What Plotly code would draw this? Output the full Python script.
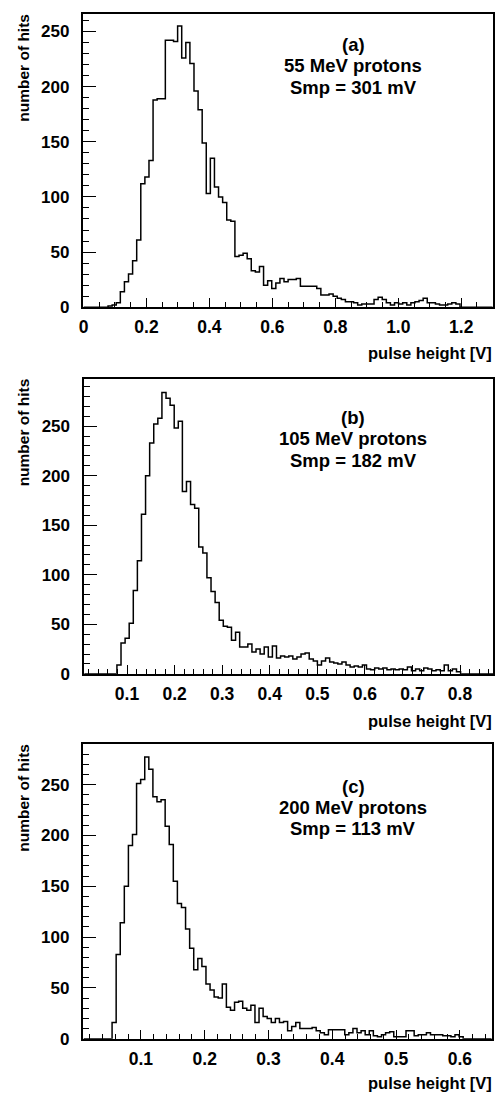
import numpy as np
import plotly.graph_objects as go

# ---------------- data ----------------
# Panel (a): 55 MeV protons, 100 bins from 0 to 1.3 V
a_lo, a_hi = 0.0, 1.3
a_counts = [0, 0, 0, 0, 0, 0,
            1, 2, 4, 14, 23, 30, 42, 61,
            112, 118, 133, 188, 189, 189, 242, 242,
            241, 255, 226, 240, 221, 196, 179, 149,
            103, 135, 109, 100, 95, 79, 78, 46,
            47, 49, 44, 33, 32, 37, 20, 24,
            17, 22, 26, 23, 25, 25, 26, 19,
            19, 19, 19, 17, 11, 11, 12, 10,
            8, 7, 5, 5, 4, 2, 3, 3,
            3, 7, 9, 7, 4, 2, 4, 3,
            4, 2, 4, 5, 6, 8, 4, 4,
            3, 2, 2, 3, 4, 3,
            0, 0, 0, 0, 0, 0, 0, 0]

# Panel (b): 105 MeV protons, 100 bins from 0.01 to 0.87 V
b_lo, b_hi = 0.01, 0.87
b_counts = [0, 0, 0, 0, 0, 0, 0, 0,
            9, 31, 36, 51, 84, 114, 161, 200,
            233, 252, 258, 284, 278, 271, 248, 255,
            184, 194, 171, 167, 128, 122, 97, 83,
            72, 54, 48, 47, 34, 42, 27, 27,
            30, 22, 25, 20, 27, 17, 28, 16,
            18, 17, 18, 15, 17, 20, 21, 15,
            13, 9, 13, 16, 12, 11, 10, 12,
            9, 7, 8, 7, 9, 5, 4, 6,
            5, 6, 4, 5, 4, 5, 4, 7,
            3, 5, 3, 6, 5, 3, 4, 3,
            9, 3, 5, 2,
            0, 0, 0, 0, 0, 0, 0, 0]

# Panel (c): 200 MeV protons, 100 bins from 0.01 to 0.65 V
c_lo, c_hi = 0.01, 0.65
c_counts = [0, 0, 0, 0, 0, 0, 0,
            16, 83, 114, 150, 190, 201, 251, 255,
            277, 265, 238, 233, 235, 209, 191, 155,
            133, 129, 108, 89, 68, 79, 71, 54,
            48, 41, 40, 54, 31, 28, 36, 37,
            30, 28, 33, 16, 30, 22, 20, 16,
            20, 16, 17, 8, 12, 16, 10, 10,
            10, 11, 8, 6, 4, 9, 9, 9,
            9, 4, 6, 10, 6, 8, 4, 8,
            3, 2, 4, 6, 7, 2, 2, 2,
            8, 8, 3, 4, 4, 6, 4, 4,
            4, 3, 3, 2, 4, 2,
            0, 0, 0, 0, 0, 0, 0]

labels = [["(a)", "55 MeV protons", "Smp = 301 mV"],
          ["(b)", "105 MeV protons", "Smp = 182 mV"],
          ["(c)", "200 MeV protons", "Smp = 113 mV"]]

a_xticks = [0, 0.2, 0.4, 0.6, 0.8, 1.0, 1.2]
a_xtext = ["0", "0.2", "0.4", "0.6", "0.8", "1.0", "1.2"]
b_xticks = [0.1, 0.2, 0.3, 0.4, 0.5, 0.6, 0.7, 0.8]
b_xtext = ["0.1", "0.2", "0.3", "0.4", "0.5", "0.6", "0.7", "0.8"]
c_xticks = [0.1, 0.2, 0.3, 0.4, 0.5, 0.6]
c_xtext = ["0.1", "0.2", "0.3", "0.4", "0.5", "0.6"]
y_ticks = [0, 50, 100, 150, 200, 250]

x_title = "pulse height [V]"
y_title = "number of hits"

# ---------------- layout geometry ----------------
W, H = 495, 1103
panels = [
    dict(lo=a_lo, hi=a_hi, counts=a_counts, xr=[0, 1.3], yr=[0, 266],
         xt=a_xticks, xtt=a_xtext, minor=0.05,
         px=(79.3, 492.7), py=(14, 310), lab_y=(45, 66.5, 88), xt_y=356),
    dict(lo=b_lo, hi=b_hi, counts=b_counts, xr=[0.01, 0.87], yr=[0, 298],
         xt=b_xticks, xtt=b_xtext, minor=0.02,
         px=(80, 493.3), py=(382, 680), lab_y=(421.5, 443, 465), xt_y=728),
    dict(lo=c_lo, hi=c_hi, counts=c_counts, xr=[0.01, 0.65], yr=[0, 290],
         xt=c_xticks, xtt=c_xtext, minor=0.02,
         px=(79.3, 491.7), py=(750.7, 1048.3), lab_y=(794, 815, 836.5), xt_y=1093),
]

FONT = "Liberation Sans, Arial, Helvetica, sans-serif"
fig = go.Figure()
annotations = []

for i, p in enumerate(panels):
    n = len(p["counts"])
    edges = np.linspace(p["lo"], p["hi"], n + 1)
    ys = list(p["counts"]) + [p["counts"][-1]]
    sfx = "" if i == 0 else str(i + 1)
    fig.add_trace(go.Scatter(
        x=edges, y=ys, mode="lines", line=dict(color="black", width=1.5, shape="hv"),
        xaxis="x" + sfx, yaxis="y" + sfx, showlegend=False, hoverinfo="skip"))

    xd = [p["px"][0] / W, p["px"][1] / W]
    yd = [1 - p["py"][1] / H, 1 - p["py"][0] / H]
    fig.layout["xaxis" + sfx] = dict(
        domain=xd, range=p["xr"], anchor="y" + sfx,
        showgrid=False, zeroline=False, showline=True, linecolor="black",
        linewidth=1.5, mirror=True, ticks="inside", ticklen=9, tickwidth=1.2,
        tickcolor="black", tickmode="array", tickvals=p["xt"], ticktext=p["xtt"],
        tickfont=dict(family=FONT, size=17.5, color="black", weight="bold"),
        ticklabelstandoff=3,
        minor=dict(ticks="inside", ticklen=5, tickwidth=1.1, tickcolor="black",
                   dtick=p["minor"], tick0=0, showgrid=False))
    fig.layout["yaxis" + sfx] = dict(
        domain=yd, range=p["yr"], anchor="x" + sfx,
        showgrid=False, zeroline=False, showline=True, linecolor="black",
        linewidth=1.5, mirror=True, ticks="inside", ticklen=13, tickwidth=1.2,
        tickcolor="black", tickmode="array", tickvals=y_ticks,
        ticktext=[str(v) for v in y_ticks],
        tickfont=dict(family=FONT, size=17, color="black", weight="bold"),
        ticklabelstandoff=9,
        minor=dict(ticks="inside", ticklen=6, tickwidth=1.1, tickcolor="black",
                   dtick=10, tick0=0, showgrid=False))

    for line_txt, ly in zip(labels[i], p["lab_y"]):
        annotations.append(dict(
            text=line_txt, xref="paper", yref="paper",
            x=352 / W, y=1 - ly / H, xanchor="center", yanchor="middle",
            showarrow=False, align="center",
            font=dict(family=FONT, size=18.5, color="black", weight="bold")))
    annotations.append(dict(
        text=x_title, xref="paper", yref="paper",
        x=494 / W, y=1 - p["xt_y"] / H, xanchor="right", yanchor="middle",
        showarrow=False,
        font=dict(family=FONT, size=16.5, color="black", weight="bold")))
    annotations.append(dict(
        text=y_title, xref="paper", yref="paper",
        x=19 / W, y=1 - (p["py"][0] - 2) / H, xanchor="center", yanchor="top",
        textangle=-90, showarrow=False,
        font=dict(family=FONT, size=15.5, color="black", weight="bold")))

fig.update_layout(
    width=W, height=H, margin=dict(l=0, r=0, t=0, b=0),
    paper_bgcolor="white", plot_bgcolor="white",
    annotations=annotations)

fig.write_html("out.html",
               config={"displayModeBar": False},
               post_script="document.body.style.margin='0';"
                           "document.body.style.overflow='hidden';")
